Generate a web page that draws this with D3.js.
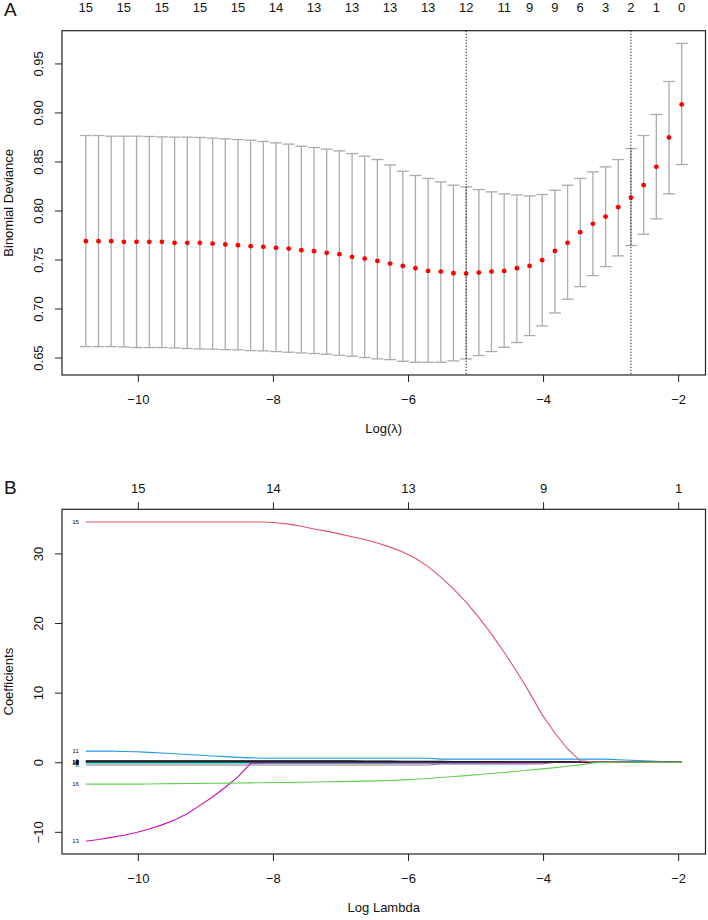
<!DOCTYPE html>
<html>
<head>
<meta charset="utf-8">
<script src="https://cdn.jsdelivr.net/npm/d3@7"></script>
<style>
   body { margin: 0; background: #fff; }
   svg text { font-family: "Liberation Sans", Arial, sans-serif; fill: #111; }
   .tick line { stroke: #222; }
</style>
</head>
<body>
<div id="chart"></div>
<script>
// ---- data ----

// log(lambda) grid of the cv fit (48 values)
const logLambda = [-10.770, -10.582, -10.395, -10.207, -10.019, -9.831, -9.644, -9.456, -9.268, -9.081,
   -8.893, -8.705, -8.518, -8.330, -8.142, -7.954, -7.767, -7.579, -7.391, -7.204,
   -7.016, -6.828, -6.641, -6.453, -6.265, -6.077, -5.890, -5.702, -5.514, -5.327,
   -5.139, -4.951, -4.764, -4.576, -4.388, -4.200, -4.013, -3.825, -3.637, -3.450,
   -3.262, -3.074, -2.887, -2.699, -2.511, -2.323, -2.136, -1.948];

// mean binomial deviance and the +/- 1 se band
const cvm = [0.7687, 0.7687, 0.7687, 0.7680, 0.7680, 0.7680, 0.7680, 0.7670, 0.7670, 0.7670,
   0.7663, 0.7653, 0.7646, 0.7636, 0.7629, 0.7619, 0.7612, 0.7595, 0.7585, 0.7568,
   0.7554, 0.7527, 0.7510, 0.7486, 0.7459, 0.7435, 0.7411, 0.7384, 0.7377, 0.7360,
   0.7357, 0.7367, 0.7377, 0.7384, 0.7411, 0.7435, 0.7493, 0.7588, 0.7670, 0.7779,
   0.7864, 0.7938, 0.8034, 0.8132, 0.8258, 0.8445, 0.8745, 0.9082];
const cvup = [0.8765, 0.8765, 0.8758, 0.8758, 0.8758, 0.8755, 0.8751, 0.8748, 0.8748, 0.8745,
   0.8738, 0.8731, 0.8724, 0.8717, 0.8704, 0.8690, 0.8677, 0.8656, 0.8643, 0.8626,
   0.8608, 0.8581, 0.8554, 0.8520, 0.8465, 0.8401, 0.8357, 0.8327, 0.8292, 0.8258,
   0.8241, 0.8214, 0.8190, 0.8170, 0.8159, 0.8149, 0.8163, 0.8207, 0.8258, 0.8327,
   0.8394, 0.8445, 0.8520, 0.8632, 0.8765, 0.8979, 0.9316, 0.9704];
const cvlo = [0.6612, 0.6612, 0.6612, 0.6608, 0.6602, 0.6602, 0.6602, 0.6598, 0.6592, 0.6588,
   0.6585, 0.6581, 0.6578, 0.6571, 0.6568, 0.6561, 0.6554, 0.6547, 0.6541, 0.6534,
   0.6523, 0.6513, 0.6500, 0.6486, 0.6479, 0.6462, 0.6452, 0.6452, 0.6452, 0.6466,
   0.6486, 0.6520, 0.6561, 0.6605, 0.6653, 0.6724, 0.6823, 0.6955, 0.7095, 0.7224,
   0.7336, 0.7428, 0.7537, 0.7643, 0.7758, 0.7915, 0.8170, 0.8469];

const lambdaMin = -5.139;
const lambda1se = -2.699;

// number of nonzero coefficients shown on the top axis of panel A
const nzeroAt = [-10.770, -10.207, -9.644, -9.081, -8.518, -7.954, -7.391, -6.828, -6.265, -5.702,
   -5.139, -4.576, -4.200, -3.825, -3.450, -3.074, -2.699, -2.323, -1.948];
const nzeroLabels = ["15", "15", "15", "15", "15", "14", "13", "13", "13", "13",
   "12", "11", "9", "9", "6", "3", "2", "1", "0"];

const xTicks = [-10, -8, -6, -4, -2];
const yTicksA = [0.65, 0.70, 0.75, 0.80, 0.85, 0.90, 0.95];
const yTicksB = [-10, 0, 10, 20, 30];
const dfLabels = ["15", "14", "13", "9", "1"];   // top axis of panel B, at xTicks

// coefficient paths, one per variable, on the same lambda grid
const coef1 = [0.20, 0.20, 0.20, 0.20, 0.20, 0.20, 0.20, 0.20, 0.20, 0.20,
   0.20, 0.20, 0.20, 0.20, 0.20, 0.20, 0.20, 0.20, 0.20, 0.20,
   0.20, 0.19, 0.18, 0.17, 0.16, 0.15, 0.14, 0.13, 0.12, 0.11,
   0.10, 0.09, 0.08, 0.07, 0.06, 0.05, 0.04, 0.03, 0.02, 0.01,
   0, 0, 0, 0, 0, 0, 0, 0];
const coef2 = [0.03, 0.03, 0.03, 0.02, 0.02, 0.02, 0.01, 0.01, 0.01, 0,
   0, 0, 0, 0, 0, 0, 0, 0, 0, 0, 0, 0, 0, 0, 0, 0, 0, 0, 0, 0,
   0, 0, 0, 0, 0, 0, 0, 0, 0, 0, 0, 0, 0, 0, 0, 0, 0, 0];
const coef3 = [-0.05, -0.05, -0.05, -0.05, -0.05, -0.04, -0.04, -0.04, -0.03, -0.03,
   -0.02, -0.02, -0.01, 0, 0, 0, 0, 0, 0, 0, 0, 0, 0, 0, 0, 0, 0, 0, 0, 0,
   0, 0, 0, 0, 0, 0, 0, 0, 0, 0, 0, 0, 0, 0, 0, 0, 0, 0];
const coef4 = [0.08, 0.08, 0.08, 0.08, 0.08, 0.08, 0.07, 0.07, 0.07, 0.06,
   0.06, 0.05, 0.05, 0.04, 0.03, 0.02, 0.01, 0, 0, 0, 0, 0, 0, 0, 0, 0, 0, 0, 0, 0,
   0, 0, 0, 0, 0, 0, 0, 0, 0, 0, 0, 0, 0, 0, 0, 0, 0, 0];
const coef6 = [-0.15, -0.15, -0.15, -0.15, -0.15, -0.15, -0.15, -0.15, -0.15, -0.15,
   -0.15, -0.15, -0.15, -0.15, -0.15, -0.15, -0.15, -0.15, -0.15, -0.15,
   -0.14, -0.14, -0.14, -0.13, -0.13, -0.12, -0.12, -0.11, -0.10, -0.09,
   -0.08, -0.06, -0.04, 0, 0, 0, 0, 0, 0, 0, 0, 0, 0, 0, 0, 0, 0, 0];
const coef7 = [0.10, 0.10, 0.10, 0.10, 0.10, 0.10, 0.10, 0.10, 0.10, 0.09,
   0.09, 0.08, 0.08, 0.07, 0.06, 0.05, 0.04, 0.03, 0.02, 0.01,
   0, 0, 0, 0, 0, 0, 0, 0, 0, 0, 0, 0, 0, 0, 0, 0, 0, 0, 0, 0,
   0, 0, 0, 0, 0, 0, 0, 0];
const coef8 = [-0.40, -0.40, -0.40, -0.40, -0.40, -0.40, -0.40, -0.40, -0.40, -0.40,
   -0.40, -0.40, -0.40, -0.40, -0.40, -0.40, -0.40, -0.40, -0.40, -0.40,
   -0.40, -0.40, -0.40, -0.40, -0.40, -0.40, -0.40, -0.40, -0.25, -0.25,
   -0.25, -0.25, -0.25, -0.25, -0.25, -0.25, -0.25, 0, 0, 0,
   0, 0, 0, 0, 0, 0, 0, 0];
const coef9 = [-0.02, -0.02, -0.02, -0.02, -0.01, -0.01, 0, 0, 0, 0,
   0, 0, 0, 0, 0, 0, 0, 0, 0, 0, 0, 0, 0, 0, 0, 0, 0, 0, 0, 0,
   0, 0, 0, 0, 0, 0, 0, 0, 0, 0, 0, 0, 0, 0, 0, 0, 0, 0];
const coef10 = [0.04, 0.04, 0.04, 0.04, 0.04, 0.03, 0.03, 0.03, 0.02, 0.02,
   0.01, 0.01, 0, 0, 0, 0, 0, 0, 0, 0, 0, 0, 0, 0, 0, 0, 0, 0, 0, 0,
   0, 0, 0, 0, 0, 0, 0, 0, 0, 0, 0, 0, 0, 0, 0, 0, 0, 0];
const coef11 = [1.60, 1.60, 1.60, 1.55, 1.50, 1.42, 1.33, 1.22, 1.10, 1.00,
   0.90, 0.80, 0.70, 0.62, 0.57, 0.57, 0.57, 0.57, 0.57, 0.57,
   0.57, 0.57, 0.57, 0.57, 0.57, 0.57, 0.57, 0.57, 0.45, 0.45,
   0.45, 0.45, 0.45, 0.45, 0.45, 0.45, 0.45, 0.45, 0.45, 0.45,
   0.45, 0.45, 0.35, 0.28, 0.20, 0.15, 0.05, 0];
const coef12 = [-0.08, -0.08, -0.08, -0.08, -0.08, -0.08, -0.08, -0.08, -0.08, -0.08,
   -0.08, -0.08, -0.08, -0.08, -0.06, -0.06, -0.06, -0.06, -0.06, -0.06,
   -0.06, -0.06, -0.06, -0.06, -0.06, -0.06, -0.06, -0.06, -0.06, -0.06,
   -0.06, -0.05, -0.05, -0.04, -0.03, -0.02, 0, 0, 0, 0,
   0, 0, 0, 0, 0, 0, 0, 0];
const coef13 = [-11.35, -11.10, -10.80, -10.50, -10.10, -9.60, -9.00, -8.30, -7.40, -6.20,
   -5.00, -3.60, -2.10, -0.15, -0.12, -0.12, -0.12, -0.12, -0.12, -0.12,
   -0.12, -0.12, -0.12, -0.12, -0.12, -0.12, -0.12, -0.12, -0.12, -0.12,
   -0.12, -0.12, -0.12, -0.12, -0.12, -0.12, -0.08, 0, 0, 0,
   0, 0, 0, 0, 0, 0, 0, 0];
const coef14 = [0.05, 0.05, 0.05, 0.05, 0.05, 0.05, 0.05, 0.05, 0.05, 0.05,
   0.05, 0.05, 0.05, 0.05, 0.05, 0.05, 0.05, 0.05, 0.05, 0.05,
   0.05, 0.05, 0.05, 0.05, 0.05, 0.05, 0.05, 0.05, 0.05, 0.05,
   0.05, 0.05, 0.05, 0.05, 0.05, 0.05, 0.05, 0.05, 0.05, 0.04,
   0.02, 0, 0, 0, 0, 0, 0, 0];
const coef15 = [34.5, 34.5, 34.5, 34.5, 34.5, 34.5, 34.5, 34.5, 34.5, 34.5,
   34.5, 34.5, 34.5, 34.5, 34.5, 34.4, 34.2, 33.9, 33.5, 33.2,
   32.8, 32.4, 32.0, 31.5, 30.9, 30.2, 29.3, 28.1, 26.6, 24.9,
   23.0, 20.8, 18.4, 15.8, 13.0, 10.0, 6.8, 4.2, 1.9, 0.2,
   0.05, 0, 0, 0, 0, 0, 0, 0];
const coef16 = [-3.15, -3.15, -3.15, -3.15, -3.15, -3.12, -3.10, -3.08, -3.06, -3.04,
   -3.02, -3.00, -2.98, -2.96, -2.94, -2.92, -2.90, -2.87, -2.84, -2.81,
   -2.78, -2.75, -2.72, -2.68, -2.62, -2.54, -2.44, -2.33, -2.20, -2.06,
   -1.92, -1.77, -1.62, -1.47, -1.30, -1.12, -0.95, -0.77, -0.58, -0.38,
   -0.10, 0, 0, 0, 0, 0, 0, 0];

const varNames = ["1", "2", "3", "4", "6", "7", "8", "9", "10", "11", "12", "13", "14", "15", "16"];
const varCoefs = [coef1, coef2, coef3, coef4, coef6, coef7, coef8, coef9, coef10, coef11,
   coef12, coef13, coef14, coef15, coef16];

// R matplot default colours col = 1:6, recycled
const palette = ["#000000", "#DF536B", "#61D04F", "#2297E6", "#28E2E5", "#CD0BBC"];

// ---- layout ----
const width = 708;
const height = 920;
const boxA = { left: 62, right: 705.5, top: 30.7, bottom: 375 };
const boxB = { left: 62, right: 705.5, top: 509.3, bottom: 854 };

const svg = d3.select("#chart").append("svg")
   .attr("width", width)
   .attr("height", height);

// R pads the data range by 4% on each side
function pad(ext) {
   const d = (ext[1] - ext[0]) * 0.04;
   return [ext[0] - d, ext[1] + d];
}

const xDomain = pad(d3.extent(logLambda));

function frame(box) {
   svg.append("rect")
      .attr("x", box.left)
      .attr("y", box.top)
      .attr("width", box.right - box.left)
      .attr("height", box.bottom - box.top)
      .attr("fill", "none")
      .attr("stroke", "#222")
      .attr("stroke-width", 1.2);
}

function bottomAxis(x, box, title) {
   const g = svg.append("g")
      .attr("transform", `translate(0, ${box.bottom})`)
      .call(d3.axisBottom(x).tickValues(xTicks).tickSize(7).tickPadding(13).tickFormat(d3.format("d")));
   g.select(".domain").remove();
   g.selectAll("text").style("font-size", "13px");

   svg.append("text")
      .attr("x", (box.left + box.right) / 2)
      .attr("y", box.bottom + 58)
      .style("text-anchor", "middle")
      .style("font-size", "13px")
      .text(title);
}

function leftAxis(y, box, ticks, fmt, title) {
   const g = svg.append("g")
      .attr("transform", `translate(${box.left}, 0)`)
      .call(d3.axisLeft(y).tickValues(ticks).tickSize(7).tickFormat(fmt));
   g.select(".domain").remove();
   g.selectAll("text")
      .attr("transform", "rotate(-90)")
      .attr("x", 0)
      .attr("y", -24)
      .attr("dy", "0.35em")
      .style("text-anchor", "middle")
      .style("font-size", "13px");

   svg.append("text")
      .attr("transform", `translate(12.5, ${(box.top + box.bottom) / 2}) rotate(-90)`)
      .style("text-anchor", "middle")
      .style("font-size", "13px")
      .text(title);
}

// ================= panel A : cross-validation curve =================
const xA = d3.scaleLinear().domain(xDomain).range([boxA.left, boxA.right]);
const yA = d3.scaleLinear()
   .domain(pad([d3.min(cvlo), d3.max(cvup)]))
   .range([boxA.bottom, boxA.top]);

const cvData = logLambda.map((l, i) => ({ l: l, m: cvm[i], up: cvup[i], lo: cvlo[i] }));
const capW = (d3.max(logLambda) - d3.min(logLambda)) * 0.01;

const bars = svg.append("g").attr("stroke", "#ABABAB").attr("stroke-width", 1.3);

bars.selectAll("line.bar")
   .data(cvData)
   .enter()
   .append("line")
   .attr("class", "bar")
   .attr("x1", d => xA(d.l))
   .attr("x2", d => xA(d.l))
   .attr("y1", d => yA(d.up))
   .attr("y2", d => yA(d.lo));

bars.selectAll("line.capUp")
   .data(cvData)
   .enter()
   .append("line")
   .attr("class", "capUp")
   .attr("x1", d => xA(d.l - capW))
   .attr("x2", d => xA(d.l + capW))
   .attr("y1", d => yA(d.up))
   .attr("y2", d => yA(d.up));

bars.selectAll("line.capLo")
   .data(cvData)
   .enter()
   .append("line")
   .attr("class", "capLo")
   .attr("x1", d => xA(d.l - capW))
   .attr("x2", d => xA(d.l + capW))
   .attr("y1", d => yA(d.lo))
   .attr("y2", d => yA(d.lo));

svg.selectAll("circle.cvm")
   .data(cvData)
   .enter()
   .append("circle")
   .attr("class", "cvm")
   .attr("cx", d => xA(d.l))
   .attr("cy", d => yA(d.m))
   .attr("r", 2.4)
   .attr("fill", "#FF0000");

// lambda.min and lambda.1se
svg.selectAll("line.vref")
   .data([lambdaMin, lambda1se])
   .enter()
   .append("line")
   .attr("class", "vref")
   .attr("x1", d => xA(d))
   .attr("x2", d => xA(d))
   .attr("y1", boxA.top)
   .attr("y2", boxA.bottom)
   .attr("stroke", "#111")
   .attr("stroke-width", 1)
   .attr("stroke-dasharray", "1.2,1.8");

frame(boxA);
bottomAxis(xA, boxA, "Log(\u03BB)");
leftAxis(yA, boxA, yTicksA, d3.format(".2f"), "Binomial Deviance");

svg.selectAll("text.nzero")
   .data(nzeroAt)
   .enter()
   .append("text")
   .attr("class", "nzero")
   .attr("x", d => xA(d))
   .attr("y", boxA.top - 19)
   .style("text-anchor", "middle")
   .style("font-size", "13px")
   .text((d, i) => nzeroLabels[i]);

svg.append("text")
   .attr("x", 4)
   .attr("y", 16)
   .style("font-size", "19px")
   .text("A");

// ================= panel B : coefficient paths =================
const xB = d3.scaleLinear().domain(xDomain).range([boxB.left, boxB.right]);
const yB = d3.scaleLinear()
   .domain(pad([d3.min(varCoefs, c => d3.min(c)), d3.max(varCoefs, c => d3.max(c))]))
   .range([boxB.bottom, boxB.top]);

const paths = varNames.map((name, k) => ({
   name: name,
   colour: palette[k % palette.length],
   values: varCoefs[k]
}));

const line = d3.line()
   .x((v, i) => xB(logLambda[i]))
   .y(v => yB(v));

svg.append("g")
   .selectAll("path")
   .data(paths)
   .enter()
   .append("path")
   .attr("d", d => line(d.values))
   .attr("fill", "none")
   .attr("stroke", d => d.name == "8" ? "#808080" : d.colour)
   .attr("stroke-width", 1.1);

svg.selectAll("text.varLabel")
   .data(paths)
   .enter()
   .append("text")
   .attr("class", "varLabel")
   .attr("x", xB(logLambda[0]) - 7)
   .attr("y", d => yB(d.values[0]))
   .attr("dy", "0.35em")
   .style("text-anchor", "end")
   .style("font-size", "6px")
   .text(d => d.name);

frame(boxB);

const topB = svg.append("g")
   .attr("transform", `translate(0, ${boxB.top})`)
   .call(d3.axisTop(xB).tickValues(xTicks).tickSize(7).tickPadding(9)
      .tickFormat((d, i) => dfLabels[i]));
topB.select(".domain").remove();
topB.selectAll("text").style("font-size", "13px");

bottomAxis(xB, boxB, "Log Lambda");
leftAxis(yB, boxB, yTicksB, d3.format("d"), "Coefficients");

svg.append("text")
   .attr("x", 4)
   .attr("y", 494)
   .style("font-size", "19px")
   .text("B");
</script>
</body>
</html>
